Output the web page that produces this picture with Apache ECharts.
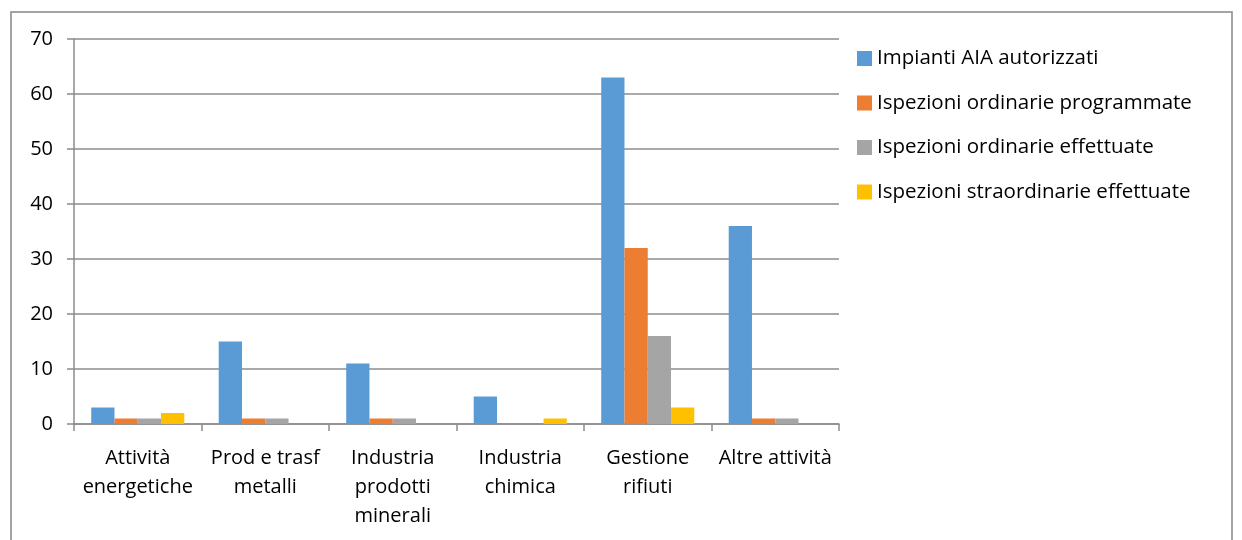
<!DOCTYPE html>
<html>
<head>
<meta charset="utf-8">
<script src="https://cdn.jsdelivr.net/npm/echarts@6/dist/echarts.min.js"></script>
<style>
  html, body { margin: 0; padding: 0; background: #fff; }
  #chart { width: 1242px; height: 540px; }
</style>
</head>
<body>
<div id="chart"></div>
<script>
const categories = [
  "Attività\nenergetiche",
  "Prod e trasf\nmetalli",
  "Industria\nprodotti\nminerali",
  "Industria\nchimica",
  "Gestione\nrifiuti",
  "Altre attività"
];
const seriesNames = [
  "Impianti AIA autorizzati",
  "Ispezioni ordinarie programmate",
  "Ispezioni ordinarie effettuate",
  "Ispezioni straordinarie effettuate"
];
const impianti = [3, 15, 11, 5, 63, 36];
const ordinarieProgrammate = [1, 1, 1, 0, 32, 1];
const ordinarieEffettuate = [1, 1, 1, 0, 16, 1];
const straordinarieEffettuate = [2, 0, 0, 1, 3, 0];
const colors = ["#5b9bd5", "#ed7d31", "#a5a5a5", "#ffc000"];

const font = "Open Sans";
const axisGray = "#8c8c8c";

const chart = echarts.init(document.getElementById("chart"));
const values = [impianti, ordinarieProgrammate, ordinarieEffettuate, straordinarieEffettuate];

chart.setOption({
  animation: false,
  color: colors,
  textStyle: { fontFamily: font },
  graphic: [{
    type: "rect",
    shape: { x: 11, y: 12, width: 1221, height: 560 },
    style: { fill: "none", stroke: "#878787", lineWidth: 1.5 }
  }],
  legend: {
    orient: "vertical",
    left: 852,
    top: 43,
    itemWidth: 15,
    itemHeight: 15,
    itemGap: 23.5,
    icon: "rect",
    textStyle: { fontFamily: font, fontSize: 20.5, color: "#000", lineHeight: 18 },
    data: seriesNames
  },
  grid: { left: 74, right: 403, top: 39, bottom: 116 },
  xAxis: {
    type: "category",
    data: categories,
    axisLine: { lineStyle: { color: axisGray, width: 1.5 } },
    axisTick: { show: true, length: 7, alignWithLabel: false, lineStyle: { color: axisGray, width: 1.5 } },
    axisLabel: { fontFamily: font, fontSize: 20, color: "#000", lineHeight: 29, margin: 20, interval: 0 }
  },
  yAxis: {
    type: "value",
    min: 0,
    max: 70,
    interval: 10,
    axisLine: { show: true, lineStyle: { color: axisGray, width: 1.5 } },
    axisTick: { show: true, length: 7, lineStyle: { color: axisGray, width: 1.5 } },
    axisLabel: { fontFamily: font, fontSize: 20, color: "#000", margin: 21 },
    splitLine: { lineStyle: { color: axisGray, width: 1.5 } }
  },
  series: seriesNames.map((name, i) => ({
    name: name,
    type: "bar",
    data: values[i],
    barGap: "0%",
    barCategoryGap: "27%",
    itemStyle: { color: colors[i] }
  }))
});
</script>
</body>
</html>
